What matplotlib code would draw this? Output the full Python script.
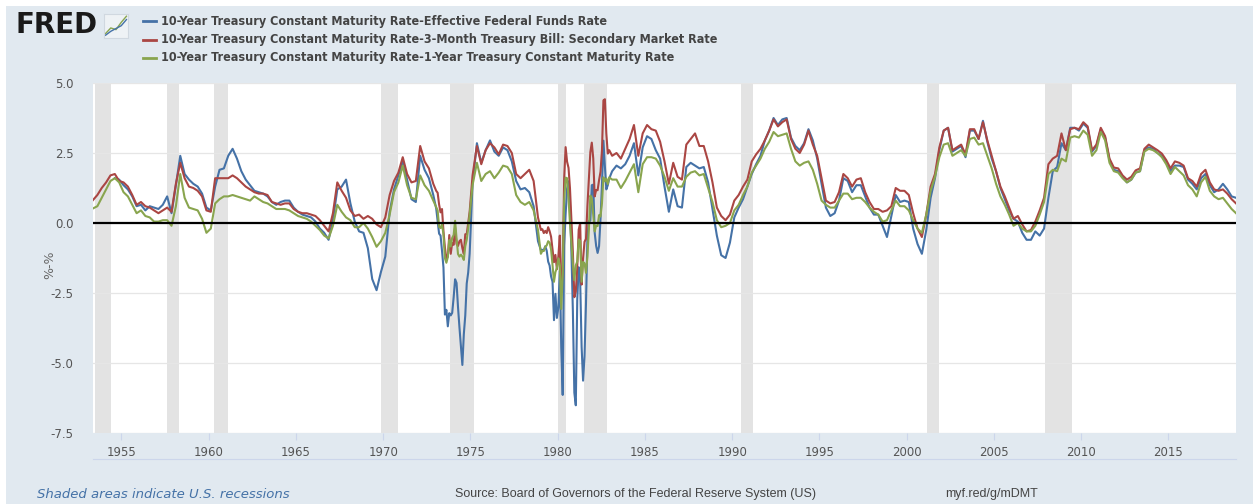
import numpy as np
import matplotlib
matplotlib.use('Agg')
import matplotlib.pyplot as plt
from matplotlib.lines import Line2D
from matplotlib.patches import Rectangle

nan = np.nan

# observation dates (decimal years): quarterly, monthly in 1973-74 and 1979-82
q1 = np.arange(1953.375, 1972.9, 0.25)
m1 = 1973 + (np.arange(24) + 0.5) / 12
q2 = np.arange(1975.125, 1978.9, 0.25)
m2 = 1979 + (np.arange(48) + 0.5) / 12
q3 = np.arange(1983.125, 2018.9, 0.25)
dates = np.concatenate([q1, m1, q2, m2, q3])

# 10-Year minus Effective Federal Funds Rate
ff_spread = [
    nan, nan, nan,
    nan, nan, 1.6, 1.55,
    1.35, 1.2, 0.95, 0.6,
    0.65, 0.45, 0.6, 0.55,
    0.5, 0.65, 0.95, 0.35,
    1.35, 2.4, 1.75, 1.55,
    1.4, 1.3, 1.05, 0.55,
    0.45, 1.3, 1.9, 1.95,
    2.4, 2.65, 2.3, 1.85,
    1.55, 1.35, 1.15, 1.1,
    1.05, 0.95, 0.75, 0.65,
    0.75, 0.8, 0.8, 0.55,
    0.4, 0.3, 0.25, 0.2,
    0.05, -0.2, -0.35, -0.6,
    0.1, 1.2, 1.3, 1.55,
    0.7, 0.05, -0.3, -0.35,
    -0.9, -2.0, -2.4, -1.75,
    -1.2, 0.4, 1.2, 1.7,
    2.2, 1.55, 0.85, 0.75,
    2.4, 1.9, 1.6, 1.0,
    # 1973-1974 monthly
    0.52, 0.06, -0.38, -0.45, -0.99, -1.59, -3.27, -3.1, -3.69, -3.22, -3.3, -3.21,
    -2.66, -2.01, -2.14, -3.0, -3.73, -4.39, -5.07, -3.97, -3.3, -2.16, -1.77, -1.1,
    # 1975-1978
    1.4, 2.85, 2.15, 2.6,
    2.95, 2.55, 2.4, 2.7,
    2.6, 2.2, 1.5, 1.2,
    1.25, 1.1, 0.6, -0.65,
    # 1979-1982 monthly
    -0.97, -0.96, -0.97, -0.83, -0.99, -1.38, -1.52, -1.91, -2.1, -3.47, -2.53, -3.39,
    -3.02, -1.72, -4.44, -6.14, -0.8, 0.31, 1.22, 1.49, 0.64, -1.06, -3.17, -6.06,
    -6.51, -2.74, -1.58, -2.04, -4.42, -5.63, -4.76, -2.88, -0.55, 0.07, 0.08, 1.35,
    1.37, -0.35, -0.82, -1.07, -0.83, 0.15, 1.36, 2.94, 2.03, 1.2, 1.35, 1.59,
    # 1983-2018
    1.85, 2.05, 1.95, 2.1,
    2.4, 2.85, 1.7, 2.7,
    3.1, 3.0, 2.6, 2.3,
    1.3, 0.4, 1.2, 0.6,
    0.55, 2.0, 2.15, 2.05,
    1.95, 2.0, 1.45, 0.5,
    -0.45, -1.15, -1.25, -0.7,
    0.2, 0.55, 0.85, 1.3,
    1.75, 2.1, 2.4, 2.95,
    3.3, 3.75, 3.5, 3.7,
    3.75, 3.05, 2.75, 2.6,
    2.85, 3.35, 2.95, 2.3,
    1.4, 0.55, 0.25, 0.35,
    0.8, 1.6, 1.5, 1.1,
    1.35, 1.35, 0.95, 0.55,
    0.3, 0.3, -0.1, -0.5,
    0.25, 1.0, 0.75, 0.8,
    0.75, -0.2, -0.75, -1.1,
    -0.25, 0.9, 1.6, 2.6,
    3.3, 3.4, 2.55, 2.65,
    2.75, 2.35, 3.3, 3.3,
    3.0, 3.65, 2.9, 2.3,
    1.85, 1.25, 0.85, 0.45,
    0.15, 0.05, -0.35, -0.6,
    -0.6, -0.3, -0.45, -0.2,
    0.9, 1.85, 2.0, 2.85,
    2.6, 3.4, 3.4, 3.3,
    3.55, 3.4, 2.55, 2.75,
    3.35, 3.05, 2.25, 1.9,
    1.85, 1.65, 1.45, 1.55,
    1.8, 1.85, 2.6, 2.7,
    2.65, 2.5, 2.4, 2.2,
    1.85, 2.05, 2.05, 2.0,
    1.55, 1.4, 1.2, 1.6,
    1.75, 1.35, 1.1, 1.2,
    1.4, 1.2, 0.95, 0.9,
]

# 10-Year minus 3-Month Treasury Bill
tb3_spread = [
    0.82, 1.0, 1.25,
    1.45, 1.7, 1.75, 1.5,
    1.45, 1.3, 1.0, 0.65,
    0.75, 0.6, 0.55, 0.45,
    0.35, 0.45, 0.55, 0.4,
    1.4, 2.15, 1.6, 1.3,
    1.25, 1.15, 0.95, 0.45,
    0.4, 1.6, 1.6, 1.6,
    1.6, 1.7, 1.6, 1.45,
    1.3, 1.2, 1.1, 1.05,
    1.05, 1.0, 0.75, 0.7,
    0.65, 0.7, 0.7, 0.5,
    0.4, 0.35, 0.35, 0.3,
    0.25, 0.1, -0.1, -0.3,
    0.35, 1.45, 1.15, 0.9,
    0.45, 0.25, 0.3, 0.15,
    0.25, 0.15, -0.05, -0.15,
    0.2, 1.0, 1.5, 1.8,
    2.35, 1.75, 1.45, 1.5,
    2.75, 2.2, 1.95, 1.4,
    1.15, 1.08, 0.66, 0.38, 0.5, -0.29, -0.88, -1.27, -1.2, -0.43, -1.1, -0.71,
    -0.78, -0.16, -0.75, -0.82, -0.65, -0.6, -0.9, -1.1, -0.4, -0.4, 0.0, 0.4,
    1.7, 2.75, 2.1, 2.6,
    2.85, 2.7, 2.45, 2.8,
    2.75, 2.5, 1.75, 1.6,
    1.75, 1.9, 1.5, 0.2,
    -0.25, -0.22, -0.36, -0.28, -0.36, -0.15, -0.29, -0.49, -0.93, -1.4, -1.14, -1.65,
    -1.2, -0.45, -2.45, -1.73, 1.6, 2.71, 2.19, 1.97, 1.24, 0.13, -1.05, -2.65,
    -2.45, -1.6, -0.24, -0.01, -2.2, -1.26, -0.67, -0.57, 0.62, 1.61, 2.53, 2.87,
    2.31, 0.95, 1.18, 1.17, 1.53, 1.83, 2.6, 4.38, 4.42, 3.2, 2.48, 2.6,
    2.4, 2.5, 2.3, 2.65,
    3.0, 3.5, 2.4, 3.2,
    3.5, 3.35, 3.3, 2.9,
    2.2, 1.4, 2.15, 1.65,
    1.55, 2.8, 3.0, 3.2,
    2.75, 2.75, 2.2, 1.45,
    0.55, 0.25, 0.1, 0.3,
    0.8, 1.0, 1.3, 1.55,
    2.2, 2.45, 2.65, 2.95,
    3.3, 3.7, 3.45, 3.6,
    3.7, 3.0, 2.65, 2.5,
    2.8, 3.3, 2.8, 2.4,
    1.6, 0.8, 0.7, 0.75,
    1.1, 1.75, 1.6, 1.3,
    1.55, 1.6, 1.1, 0.75,
    0.5, 0.5, 0.4, 0.45,
    0.6, 1.25, 1.15, 1.15,
    1.0, 0.35, -0.2, -0.5,
    0.3, 1.3, 1.75, 2.7,
    3.3, 3.4, 2.6, 2.7,
    2.8, 2.45, 3.35, 3.35,
    3.0, 3.6, 2.95, 2.4,
    1.85, 1.3, 0.95, 0.55,
    0.15, 0.25, -0.05, -0.3,
    -0.25, 0.05, 0.45, 0.9,
    2.1, 2.3, 2.4, 3.2,
    2.6, 3.35, 3.4, 3.35,
    3.6, 3.45, 2.6, 2.8,
    3.4, 3.1, 2.3, 1.98,
    1.95, 1.7, 1.55, 1.65,
    1.88, 1.95, 2.65, 2.8,
    2.7, 2.6, 2.48, 2.25,
    1.95, 2.2, 2.15, 2.05,
    1.6, 1.5, 1.3, 1.75,
    1.9, 1.45, 1.2, 1.15,
    1.2, 1.05, 0.85, 0.7,
]

# 10-Year minus 1-Year Treasury Constant Maturity
gs1_spread = [
    0.52, 0.6, 0.9,
    1.2, 1.5, 1.6, 1.45,
    1.1, 0.95, 0.65, 0.35,
    0.45, 0.25, 0.2, 0.05,
    0.05, 0.1, 0.1, -0.1,
    0.6, 1.75, 0.9, 0.55,
    0.5, 0.45, 0.15, -0.35,
    -0.2, 0.7, 0.85, 0.95,
    0.95, 1.0, 0.95, 0.9,
    0.85, 0.8, 0.95, 0.85,
    0.75, 0.7, 0.6, 0.5,
    0.5, 0.5, 0.45, 0.35,
    0.25, 0.2, 0.15, 0.05,
    -0.1, -0.25, -0.45, -0.55,
    -0.1, 0.65, 0.4, 0.2,
    0.1, -0.15, -0.15, 0.0,
    -0.2, -0.5, -0.85, -0.65,
    -0.35, 0.3, 1.1, 1.45,
    2.05, 1.35, 0.9, 0.85,
    1.7, 1.35, 1.15, 0.8,
    0.57, 0.45, -0.14, -0.18, -0.04, -0.41, -1.26, -1.42, -1.22, -0.61, -0.84, -0.53,
    -0.43, 0.08, -0.55, -1.11, -1.2, -1.13, -1.2, -1.32, -0.83, -0.6, -0.2, 0.3,
    1.35, 2.15, 1.5, 1.75,
    1.85, 1.6, 1.8, 2.05,
    2.0, 1.75, 1.0, 0.75,
    0.65, 0.75, 0.45, -0.25,
    -1.1, -1.0, -1.0, -0.85, -0.8, -0.65, -0.7, -0.95, -1.5, -2.1, -1.75, -1.6,
    -1.26, -1.51, -3.07, -1.83, 0.79, 1.62, 1.6, 0.86, -0.01, -0.74, -1.47, -2.04,
    -1.51, -1.38, -0.59, -0.64, -2.1, -1.39, -1.44, -1.78, -1.2, -0.23, 0.98, 0.87,
    0.27, -0.3, -0.09, -0.11, 0.28, 0.23, 0.71, 1.63, 1.49, 1.59, 1.39, 1.63,
    1.55, 1.55, 1.25, 1.5,
    1.8, 2.1, 1.1, 2.1,
    2.35, 2.35, 2.3, 2.05,
    1.65, 1.15, 1.6, 1.3,
    1.3, 1.65, 1.8, 1.85,
    1.7, 1.75, 1.25, 0.75,
    0.1, -0.15, -0.1, 0.0,
    0.45, 0.65, 1.0, 1.3,
    1.8, 2.05, 2.3, 2.65,
    2.9, 3.25, 3.1, 3.15,
    3.2, 2.65, 2.2, 2.05,
    2.15, 2.2, 1.9, 1.4,
    0.8, 0.65, 0.55, 0.55,
    0.8, 1.05, 1.05, 0.85,
    0.9, 0.9, 0.75, 0.55,
    0.4, 0.3, 0.05, 0.1,
    0.45, 0.8, 0.6, 0.6,
    0.45, 0.1, -0.2, -0.35,
    0.3, 1.15, 1.65, 2.35,
    2.8, 2.85, 2.4, 2.5,
    2.6, 2.4, 3.0, 3.05,
    2.8, 2.85, 2.4, 1.95,
    1.4, 0.95, 0.65, 0.3,
    -0.1, 0.0, -0.2, -0.3,
    -0.3, -0.1, 0.3, 0.75,
    1.75, 1.9, 1.85, 2.3,
    2.2, 3.05, 3.1, 3.05,
    3.3, 3.15, 2.4, 2.6,
    3.25, 2.95, 2.15, 1.85,
    1.8, 1.6, 1.45, 1.55,
    1.8, 1.85, 2.55, 2.65,
    2.6, 2.5, 2.35, 2.1,
    1.75, 2.0, 1.85, 1.7,
    1.35, 1.2, 0.95, 1.45,
    1.65, 1.15, 0.95, 0.85,
    0.9, 0.7, 0.5, 0.35,
]

# NBER recessions (start, end)
rec_start = [1953.5, 1957.6, 1960.3, 1969.9, 1973.85, 1980.0, 1981.5, 1990.5, 2001.17, 2007.92]
rec_end = [1954.38, 1958.3, 1961.1, 1970.85, 1975.2, 1980.5, 1982.85, 1991.2, 2001.85, 2009.45]

y_ticks = [5.0, 2.5, 0.0, -2.5, -5.0, -7.5]
x_ticks = list(range(1955, 2020, 5))

series_labels = [
    '10-Year Treasury Constant Maturity Rate-Effective Federal Funds Rate',
    '10-Year Treasury Constant Maturity Rate-3-Month Treasury Bill: Secondary Market Rate',
    '10-Year Treasury Constant Maturity Rate-1-Year Treasury Constant Maturity Rate',
]
colors = ['#4572a7', '#aa4643', '#89a54e']

W, H = 1253, 504
bg = '#e1e9f0'
fig = plt.figure(figsize=(W / 100, H / 100), dpi=100, facecolor=bg)
ax = fig.add_axes([93 / W, 1 - 433 / H, (1236 - 93) / W, (433 - 83) / H])
ax.set_facecolor('white')

for s, e in zip(rec_start, rec_end):
    ax.axvspan(s, e, color='#e3e3e3', lw=0, zorder=0)

for y in y_ticks:
    ax.axhline(y, color='#e6e6e6', lw=0.9, zorder=1)
ax.axhline(0, color='black', lw=1.6, zorder=4)

for vals, c in zip([ff_spread, tb3_spread, gs1_spread], colors):
    ax.plot(dates, np.array(vals), color=c, lw=1.5, zorder=3)

ax.set_xlim(dates[0], dates[-1])
ax.set_ylim(-7.5, 5.0)
ax.set_yticks(y_ticks)
ax.set_yticklabels(['%.1f' % v for v in y_ticks])
ax.set_xticks(x_ticks)
ax.set_xticklabels([str(v) for v in x_ticks])
for sp in ax.spines.values():
    sp.set_visible(False)
ax.tick_params(axis='y', length=0, pad=14, labelsize=8.5, labelcolor='#555555')
ax.tick_params(axis='x', length=5, width=0.8, color='#ccd6eb', pad=4,
               labelsize=8.5, labelcolor='#555555')

fig.text(50 / W, 1 - 265 / H, '%-%', rotation=90, ha='center', va='center',
         fontsize=9, color='#666666')

# axis line below the year labels
fig.add_artist(Line2D([93 / W, 1236 / W], [1 - 459 / H] * 2, color='#ccd6eb', lw=0.8))

# white frame on the top and left of the screenshot
fig.add_artist(Rectangle((0, 1 - 6 / H), 1, 6 / H, transform=fig.transFigure,
                         color='white', lw=0))
fig.add_artist(Rectangle((0, 0), 6 / W, 1, transform=fig.transFigure,
                         color='white', lw=0))

# header
fig.text(15 / W, 1 - 25 / H, 'FRED', fontsize=20, fontweight='bold', color='#1a1a1a',
         ha='left', va='center', family='DejaVu Sans')
icon = fig.add_axes([104 / W, 1 - 38 / H, 24 / W, 24 / H])
icon.set_facecolor('#eef2f5')
icon.plot([0, 1, 2, 3, 4], [0.5, 1.5, 1.2, 2.5, 3.6], color='#89a54e', lw=1)
icon.plot([0, 1, 2, 3, 4], [0.2, 0.9, 1.4, 1.9, 3.0], color='#4572a7', lw=1)
icon.set_xlim(-0.3, 4.3)
icon.set_ylim(-0.3, 4)
icon.set_xticks([])
icon.set_yticks([])
for sp in icon.spines.values():
    sp.set_color('#d0d8e0')

for i, (lab, c) in enumerate(zip(series_labels, colors)):
    yy = 1 - (21 + 18.5 * i) / H
    fig.add_artist(Line2D([143 / W, 156 / W], [yy, yy], color=c, lw=2))
    fig.text(161 / W, yy, lab, fontsize=9, fontweight='bold', color='#444444',
             ha='left', va='center', family='DejaVu Sans', fontstretch='condensed')

# footer
fig.text(37 / W, 1 - 494 / H, 'Shaded areas indicate U.S. recessions', fontsize=9.5,
         style='italic', color='#4572a7', ha='left', va='center', family='DejaVu Sans')
fig.text(455 / W, 1 - 494 / H, 'Source: Board of Governors of the Federal Reserve System (US)',
         fontsize=9, color='#444444', ha='left', va='center', family='Liberation Sans')
fig.text(945 / W, 1 - 494 / H, 'myf.red/g/mDMT', fontsize=9, color='#444444',
         ha='left', va='center', family='Liberation Sans')

fig.savefig('out.png', dpi=100, facecolor=bg)
